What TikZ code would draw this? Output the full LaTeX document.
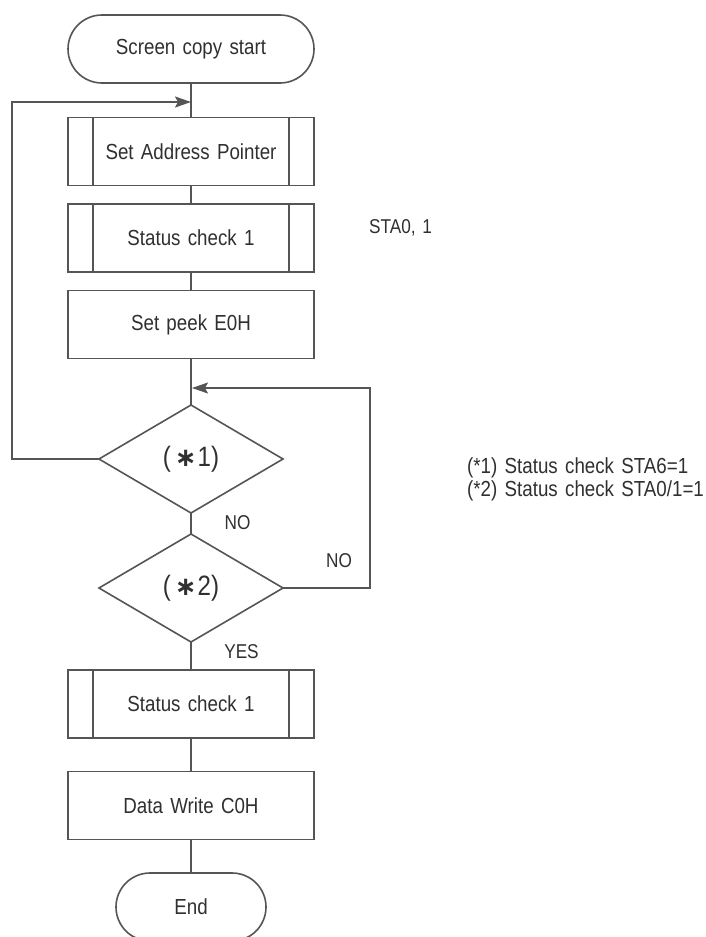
\documentclass[tikz,border=0pt]{standalone}
\usepackage{fontspec}
\setmainfont{Liberation Sans}[FakeStretch=0.86,WordSpace=1.4]
\newfontfamily\djv{DejaVu Sans}
\usetikzlibrary{shapes.geometric,arrows.meta}
\definecolor{linec}{HTML}{555555}
\definecolor{textc}{HTML}{303030}
\newcommand{\bigast}{{\djv\bfseries\fontsize{26}{26}\selectfont ∗}}
\begin{document}
\begin{tikzpicture}[x=1pt,y=-1pt,
  every node/.style={text=textc,font=\fontsize{21.8}{25}\selectfont},
  conn/.style={draw=linec,line width=1.6pt},
  arr/.style={conn,-{Stealth[length=16pt,width=11pt,inset=3pt]}},
  boxnode/.style={draw=linec,line width=1.6pt,rectangle,outer sep=0pt,inner sep=0pt,minimum width=246pt,minimum height=68pt},
  subr/.style={boxnode},
  term/.style={draw=linec,line width=1.6pt,rectangle,rounded corners=34pt,outer sep=0pt,inner sep=0pt,minimum height=68pt},
  dec/.style={draw=linec,line width=1.6pt,diamond,aspect=1.7,outer sep=0pt,inner sep=0pt,minimum width=184pt,minimum height=108pt,font=\fontsize{28}{30}\selectfont},
  lbl/.style={font=\fontsize{20}{23}\selectfont,inner sep=0pt}
]
\useasboundingbox (0,0) rectangle (706,937);
\fill[white] (0,0) rectangle (706,937);

\node[term,minimum width=246pt] (start) at (191,49) {Screen copy start};
\node[subr] (sap) at (191,151.5) {Set Address Pointer};
\node[subr] (sc1) at (191,238) {Status check 1};
\node[boxnode] (peek) at (191,324.5) {Set peek E0H};
\node[dec] (d1) at (191,459) {(\hspace{4pt}\bigast\hspace{1pt}1)};
\node[dec] (d2) at (191,588) {(\hspace{4pt}\bigast\hspace{1pt}2)};
\node[subr] (sc2) at (191,704) {Status check 1};
\node[boxnode] (dw) at (191,805.5) {Data Write C0H};
\node[term,minimum width=150pt] (end) at (191,907) {End};

% inner lines of predefined processes
\foreach \n in {sap,sc1,sc2}{
  \draw[conn] ([xshift=25pt]\n.north west) -- ([xshift=25pt]\n.south west);
  \draw[conn] ([xshift=-25pt]\n.north east) -- ([xshift=-25pt]\n.south east);
}

% main flow
\draw[conn] (start) -- (sap);
\draw[conn] (sap) -- (sc1);
\draw[conn] (sc1) -- (peek);
\draw[conn] (peek) -- (d1);
\draw[conn] (d1) -- (d2);
\draw[conn] (d2) -- (sc2);
\draw[conn] (sc2) -- (dw);
\draw[conn] (dw) -- (end);

% loops
\coordinate (j1) at (191,102);
\coordinate (j2) at (192,388);
\draw[arr] (d1.west) -- (12,459) -- (12,102) -- (j1);
\draw[arr] (d2.east) -- (370,588) -- (370,388) -- (j2);

% labels
\node[lbl] (no1) at (237.5,523) {NO};
\node[lbl] (no2) at (339,561) {NO};
\node[lbl] (yes) at (241.5,652) {YES};
\node[lbl,anchor=west] (sta) at (369,228) {STA0, 1};
\node[lbl,anchor=north west,align=left,font=\fontsize{21.8}{23}\selectfont] (notes) at (467,457) {(*1) Status check STA6=1\\(*2) Status check STA0/1=1};
\end{tikzpicture}
\end{document}
